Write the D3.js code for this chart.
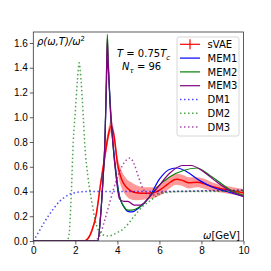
<!DOCTYPE html>
<html lang="en">
<head>
<meta charset="UTF-8">
<title>Spectral function</title>
<script src="https://d3js.org/d3.v7.min.js"></script>
<style>
    body { margin: 0; background: #fff; }
    svg { display: block; font-family: "DejaVu Sans", sans-serif; }
    .tick text { font-size: 10px; fill: #000; }
</style>
</head>
<body>
<svg id="chart" width="271" height="271"></svg>
<script>
// sVAE reconstruction with error band
const svaeW   = [0, 2.4, 2.6, 2.8, 3.0, 3.2, 3.4, 3.55, 3.7, 3.85, 4.0, 4.2, 4.4, 4.6, 4.9, 5.3, 5.7, 6.0, 6.4, 6.8, 7.1, 7.4, 7.8, 8.1, 8.5, 9.0, 9.5, 10];
const svaeV   = [0, 0, 0.02, 0.09, 0.22, 0.46, 0.68, 0.84, 0.93, 0.84, 0.63, 0.5, 0.44, 0.41, 0.39, 0.385, 0.39, 0.41, 0.46, 0.5, 0.49, 0.47, 0.475, 0.465, 0.44, 0.42, 0.405, 0.39];
const svaeErr = [0, 0.005, 0.01, 0.02, 0.03, 0.04, 0.05, 0.05, 0.05, 0.05, 0.06, 0.07, 0.07, 0.07, 0.06, 0.05, 0.045, 0.045, 0.045, 0.045, 0.045, 0.045, 0.04, 0.04, 0.035, 0.03, 0.03, 0.03];

// MEM reconstructions
const mem1W = [0, 3.07, 3.2, 3.3, 3.41, 3.47, 3.52, 3.6, 3.7, 3.78, 3.94, 4.1, 4.3, 4.5, 4.7, 5.0, 5.5, 6.0, 6.5, 6.85, 7.3, 7.9, 8.6, 9.2, 9.6, 10];
const mem1V = [0, 0, 0.2, 0.45, 0.82, 1.2, 1.47, 1.3, 1.0, 0.82, 0.55, 0.36, 0.28, 0.24, 0.235, 0.265, 0.35, 0.5, 0.58, 0.59, 0.56, 0.49, 0.43, 0.40, 0.38, 0.36];
const mem2W = [0, 3.07, 3.2, 3.3, 3.41, 3.47, 3.52, 3.57, 3.65, 3.78, 3.94, 4.1, 4.3, 4.5, 4.7, 5.0, 5.24, 5.5, 5.87, 6.5, 7.14, 7.78, 8.4, 9.05, 9.5, 10];
const mem2V = [0, 0, 0.2, 0.45, 0.82, 1.25, 1.67, 1.44, 1.12, 0.8, 0.53, 0.36, 0.28, 0.25, 0.25, 0.27, 0.30, 0.35, 0.43, 0.52, 0.57, 0.59, 0.53, 0.45, 0.40, 0.37];
const mem3W = [0, 3.07, 3.2, 3.3, 3.41, 3.47, 3.52, 3.57, 3.65, 3.78, 3.94, 4.1, 4.3, 4.5, 4.8, 5.1, 5.5, 5.9, 6.5, 7.1, 7.5, 8.1, 8.7, 9.4, 10];
const mem3V = [0, 0, 0.2, 0.45, 0.82, 1.24, 1.63, 1.42, 1.1, 0.8, 0.52, 0.34, 0.32, 0.32, 0.29, 0.29, 0.35, 0.43, 0.55, 0.61, 0.61, 0.56, 0.48, 0.40, 0.36];

// default models
const dm1W = [0, 0.25, 0.5, 0.75, 1, 1.25, 1.5, 1.75, 2, 2.25, 2.5, 3, 4, 6, 8, 10];
const dm1V = [0, 0.07, 0.145, 0.21, 0.27, 0.32, 0.355, 0.38, 0.39, 0.397, 0.40, 0.40, 0.40, 0.40, 0.405, 0.41];
const dm2W = [0, 1.6, 1.7, 1.8, 1.9, 2.0, 2.1, 2.18, 2.27, 2.38, 2.45, 2.6, 2.8, 3.0, 3.3, 3.6, 3.9, 4.3, 4.8, 5.2, 5.6, 6.0, 6.5, 7.0, 8, 10];
const dm2V = [0, 0, 0.05, 0.35, 0.8, 1.05, 1.3, 1.44, 1.3, 1.0, 0.78, 0.52, 0.3, 0.13, 0.05, 0.04, 0.06, 0.1, 0.2, 0.28, 0.33, 0.38, 0.395, 0.40, 0.40, 0.405];
const dm3W = [0, 2.8, 3.0, 3.2, 3.4, 3.6, 3.8, 4.1, 4.4, 4.6, 4.8, 5.0, 5.2, 5.4, 5.6, 6.0, 6.5, 7, 8, 10];
const dm3V = [0, 0, 0.01, 0.06, 0.17, 0.29, 0.41, 0.56, 0.65, 0.67, 0.62, 0.52, 0.43, 0.38, 0.37, 0.385, 0.40, 0.40, 0.405, 0.41];

const xTicks = [0, 2, 4, 6, 8, 10];
const yTicks = [0, 0.2, 0.4, 0.6, 0.8, 1.0, 1.2, 1.4, 1.6];
const legendNames = ["sVAE", "MEM1", "MEM2", "MEM3", "DM1", "DM2", "DM3"];

const svg = d3.select("#chart");
const mLeft = 33.3, mRight = 243.5, mTop = 32, mBottom = 241;

const x = d3.scaleLinear().domain([0, 10]).range([mLeft, mRight]);
const y = d3.scaleLinear().domain([0, 1.689]).range([mBottom, mTop]);

svg.append("defs").append("clipPath").attr("id", "clip")
    .append("rect").attr("x", mLeft).attr("y", mTop)
    .attr("width", mRight - mLeft).attr("height", mBottom - mTop);

const plot = svg.append("g").attr("clip-path", "url(#clip)");

const zip = (ws, vs) => ws.map((w, i) => [w, vs[i]]);
const line = d3.line().x(d => x(d[0])).y(d => y(d[1])).curve(d3.curveMonotoneX);

// sVAE band + line
const band = d3.area()
    .x((d, i) => x(svaeW[i]))
    .y0((d, i) => y(svaeV[i] - svaeErr[i]))
    .y1((d, i) => y(svaeV[i] + svaeErr[i]))
    .curve(d3.curveMonotoneX);
plot.append("path").attr("d", band(svaeW))
    .attr("fill", "red").attr("fill-opacity", 0.4);
plot.append("path").attr("d", line(zip(svaeW, svaeV)))
    .attr("fill", "none").attr("stroke", "red").attr("stroke-width", 1.5);

const series = [
    { w: mem1W, v: mem1V, color: "blue", dash: null },
    { w: mem2W, v: mem2V, color: "green", dash: null },
    { w: mem3W, v: mem3V, color: "purple", dash: null },
    { w: dm1W, v: dm1V, color: "blue", dash: "1.5,2.5" },
    { w: dm2W, v: dm2V, color: "green", dash: "1.5,2.5" },
    { w: dm3W, v: dm3V, color: "purple", dash: "1.5,2.5" }
];

series.forEach(s => {
    plot.append("path").attr("d", line(zip(s.w, s.v)))
        .attr("fill", "none")
        .attr("stroke", s.color)
        .attr("stroke-opacity", s.dash ? 0.7 : 1)
        .attr("stroke-width", s.dash ? 1.5 : 1.2)
        .attr("stroke-dasharray", s.dash);
});

// axes
const xAxis = svg.append("g").attr("transform", `translate(0,${mBottom})`)
    .call(d3.axisBottom(x).tickValues(xTicks).tickFormat(d3.format("d")).tickSize(3.5).tickPadding(2));
const yAxis = svg.append("g").attr("transform", `translate(${mLeft},0)`)
    .call(d3.axisLeft(y).tickValues(yTicks).tickFormat(d3.format(".1f")).tickSize(3.5).tickPadding(2));
[xAxis, yAxis].forEach(a => {
    a.select(".domain").remove();
    a.selectAll(".tick line").attr("stroke", "#333").attr("stroke-width", 0.8);
});

svg.append("rect").attr("x", mLeft).attr("y", mTop)
    .attr("width", mRight - mLeft).attr("height", mBottom - mTop)
    .attr("fill", "none").attr("stroke", "#333").attr("stroke-width", 0.8);

// labels
const ylab = svg.append("text").attr("x", 37).attr("y", 45)
    .attr("font-size", 10).attr("font-style", "italic");
ylab.append("tspan").text("ρ(ω,T)/ω");
ylab.append("tspan").attr("dy", -4).attr("font-size", 7).attr("font-style", "normal").text("2");

svg.append("text").attr("x", 240).attr("y", 238.5)
    .attr("text-anchor", "end").attr("font-size", 10)
    .html('<tspan font-style="italic">ω</tspan>[GeV]');

const tlab = svg.append("text").attr("x", 117).attr("y", 57).attr("font-size", 10);
tlab.append("tspan").attr("font-style", "italic").text("T");
tlab.append("tspan").text(" = 0.75");
tlab.append("tspan").attr("font-style", "italic").text("T");
tlab.append("tspan").attr("dy", 2.5).attr("font-size", 7).attr("font-style", "italic").text("c");

const nlab = svg.append("text").attr("x", 122).attr("y", 70).attr("font-size", 10);
nlab.append("tspan").attr("font-style", "italic").text("N");
nlab.append("tspan").attr("dy", 2.5).attr("font-size", 7).attr("font-style", "italic").text("τ");
nlab.append("tspan").attr("dy", -2.5).text(" = 96");

// legend
const lg = svg.append("g");
lg.append("rect").attr("x", 177).attr("y", 37).attr("width", 62).attr("height", 99)
    .attr("rx", 2).attr("fill", "#fff").attr("fill-opacity", 0.8)
    .attr("stroke", "#ccc").attr("stroke-width", 0.8);
const legendStyle = [{ color: "red", dash: null }].concat(series);
legendNames.forEach((name, i) => {
    const yy = 44.3 + i * 13.8;
    const st = legendStyle[i];
    lg.append("line").attr("x1", 180).attr("x2", 200).attr("y1", yy).attr("y2", yy)
        .attr("stroke", st.color)
        .attr("stroke-width", st.dash ? 1.5 : 1.2)
        .attr("stroke-opacity", st.dash ? 0.7 : 1)
        .attr("stroke-dasharray", st.dash);
    if (i === 0) {
        lg.append("line").attr("x1", 190).attr("x2", 190).attr("y1", yy - 5).attr("y2", yy + 5)
            .attr("stroke", "red").attr("stroke-width", 1.2);
    }
    lg.append("text").attr("x", 207.5).attr("y", yy + 3.6).attr("font-size", 10).text(name);
});
</script>
</body>
</html>
